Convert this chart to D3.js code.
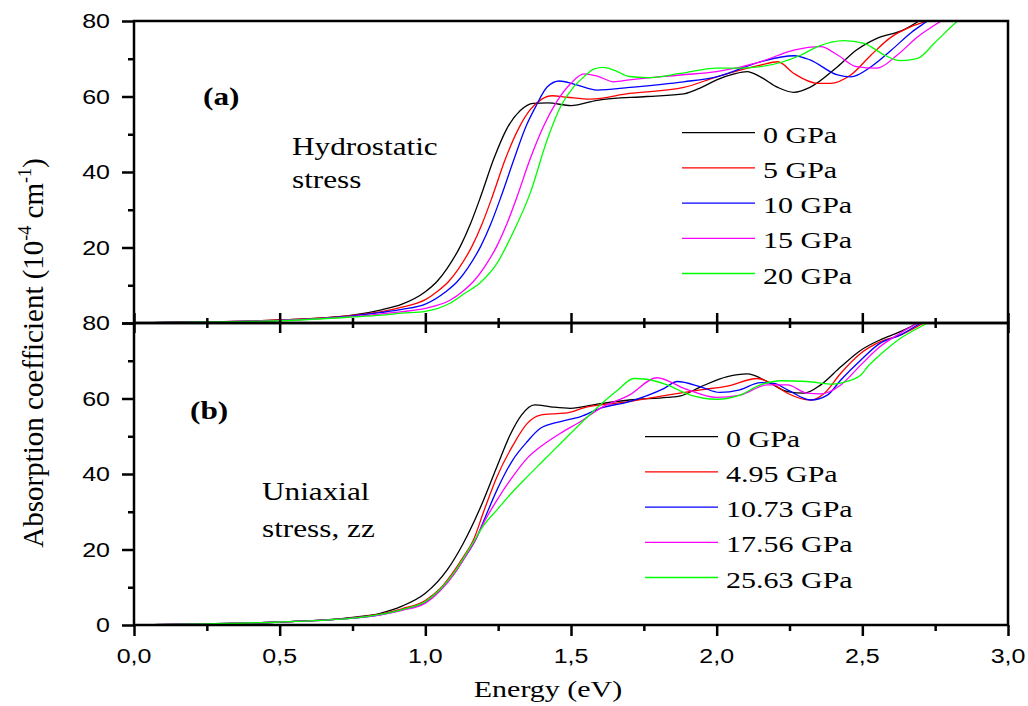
<!DOCTYPE html>
<meta charset="utf-8">
<style>
body { margin: 0; background: #fff; }
.curve { fill: none; stroke-width: 1.3; }
.tick line { stroke: #000; stroke-width: 2.5; }
.num { font-family: "Liberation Sans", Arial, sans-serif; font-size: 20px; fill: #000; }
.serif { font-family: "Liberation Serif", "Times New Roman", serif; fill: #000; }
</style>
<body>
<script src="https://cdn.jsdelivr.net/npm/d3@7"></script>
<script>
// energy (eV), absorption (10^-4 cm^-1)
var hydro0 = [[0,0],[0.25,0.3],[0.5,0.8],[0.75,2.1],[0.85,3.5],[0.92,5],[1.0,8.3],[1.04,11],[1.075,14.5],[1.12,20.3],[1.155,26.3],[1.19,33.5],[1.234,43.3],[1.28,51.5],[1.326,56.3],[1.37,58.2],[1.42,58.3],[1.5,57.6],[1.59,59],[1.76,60],[1.887,60.7],[1.95,62.5],[2.0,64.4],[2.06,66],[2.105,66.6],[2.15,65.2],[2.21,62.4],[2.265,61.1],[2.32,62.4],[2.415,67.9],[2.48,72.3],[2.55,75.4],[2.64,77.6],[2.69,79.8],[2.75,83]];
var hydro5 = [[0,0],[0.25,0.3],[0.5,0.8],[0.75,2],[0.85,3],[0.92,4.2],[1.0,6.2],[1.04,8.3],[1.08,11],[1.115,14.5],[1.16,20.3],[1.195,26.3],[1.23,33.5],[1.274,43.3],[1.32,51.5],[1.36,56.5],[1.4,59.3],[1.435,60.2],[1.487,59.8],[1.567,59.3],[1.7,60.8],[1.887,62.4],[2.0,65.2],[2.15,68.3],[2.21,69.2],[2.265,66.1],[2.346,63.5],[2.39,63.5],[2.46,65.7],[2.53,71],[2.6,75.8],[2.667,78.5],[2.72,80],[2.78,83]];
var hydro10 = [[0,0],[0.25,0.3],[0.5,0.7],[0.75,1.9],[0.85,2.8],[0.92,3.6],[1.0,5],[1.07,8.3],[1.11,11],[1.145,14.5],[1.19,20.3],[1.225,26.3],[1.26,33.5],[1.304,43.3],[1.345,52],[1.38,57.5],[1.418,62.5],[1.46,64.1],[1.51,63.3],[1.59,61.7],[1.7,62.4],[1.887,63.9],[2.0,65.2],[2.15,69.2],[2.265,70.8],[2.32,69.7],[2.415,65.7],[2.46,65.2],[2.53,67.9],[2.6,72.3],[2.667,76.9],[2.72,79.8],[2.78,83]];
var hydro15 = [[0,0],[0.25,0.3],[0.5,0.7],[0.75,1.7],[0.85,2.4],[0.92,3],[1.0,3.9],[1.086,6.1],[1.13,8.5],[1.165,11],[1.2,14.5],[1.245,20.3],[1.28,26.3],[1.315,33.5],[1.359,43.3],[1.405,52],[1.45,58.5],[1.5,63.5],[1.544,66],[1.59,65.4],[1.647,63.9],[1.7,64.4],[1.876,65.7],[2.0,66.6],[2.15,69.2],[2.265,72.3],[2.357,73.2],[2.415,71],[2.48,67.9],[2.55,67.5],[2.62,71],[2.69,75.8],[2.77,80],[2.83,83]];
var hydro20 = [[0,0],[0.25,0.3],[0.5,0.6],[0.75,1.6],[0.85,2.1],[0.92,2.6],[1.0,3.1],[1.086,5.3],[1.13,7.6],[1.19,10.8],[1.246,15.8],[1.3,23.8],[1.36,34.4],[1.418,48.5],[1.464,57.3],[1.51,62.6],[1.544,65.2],[1.58,67.3],[1.61,67.7],[1.647,67],[1.7,65.3],[1.76,65],[1.876,66.1],[2.0,67.5],[2.07,67.5],[2.15,67.9],[2.29,71],[2.346,73.2],[2.437,74.8],[2.506,74.1],[2.575,71],[2.63,69.5],[2.69,70.1],[2.747,74.1],[2.827,80],[2.88,83]];

var uni0 = [[0,0],[0.25,0.3],[0.5,0.8],[0.75,2],[0.845,3.1],[0.92,5],[1.0,8.4],[1.075,14.6],[1.13,21.6],[1.19,31.3],[1.246,42],[1.29,50.2],[1.33,55.6],[1.375,58.3],[1.43,57.8],[1.498,57.4],[1.59,58.5],[1.7,59.6],[1.83,60.3],[1.876,60.7],[1.945,63.1],[2.037,65.8],[2.105,66.5],[2.174,64.5],[2.243,61.8],[2.3,61.4],[2.357,63.6],[2.426,68.4],[2.495,72.8],[2.56,75.5],[2.63,77.7],[2.69,80],[2.75,83]];
var uni495 = [[0,0],[0.25,0.3],[0.5,0.8],[0.75,1.9],[0.845,2.9],[0.92,4.3],[1.0,6.5],[1.05,9.6],[1.1,14.5],[1.13,18],[1.165,22.5],[1.2,30],[1.246,39.3],[1.3,47.5],[1.35,53.4],[1.395,55.6],[1.45,56],[1.487,56.2],[1.556,57.8],[1.624,58.5],[1.7,59.2],[1.83,60.9],[1.945,62.3],[2.037,63.3],[2.14,65.3],[2.197,63.6],[2.243,61.4],[2.323,59.6],[2.37,61.4],[2.426,66.7],[2.495,72],[2.56,75],[2.63,76.8],[2.71,80],[2.77,83]];
var uni1073 = [[0,0],[0.25,0.3],[0.5,0.8],[0.75,1.8],[0.845,2.7],[0.92,4],[1.0,6],[1.05,9.2],[1.1,13.8],[1.13,17.3],[1.175,23],[1.2,27.5],[1.246,35.8],[1.3,43.7],[1.35,48.6],[1.395,52.1],[1.464,53.9],[1.533,55.2],[1.6,57.4],[1.7,59.2],[1.82,62.7],[1.865,64.5],[1.945,63.1],[2.01,61.6],[2.08,62.3],[2.15,64.2],[2.197,64],[2.243,62.3],[2.323,59.6],[2.38,60.9],[2.426,64.9],[2.495,70.2],[2.56,74.6],[2.63,76.8],[2.7,80],[2.76,83]];
var uni1756 = [[0,0],[0.25,0.3],[0.5,0.8],[0.75,1.8],[0.845,2.7],[0.92,3.9],[1.0,5.8],[1.05,9],[1.1,13.6],[1.13,17.2],[1.175,23],[1.2,27],[1.246,33.1],[1.3,39.3],[1.35,44.2],[1.395,47.2],[1.464,50.8],[1.533,53.9],[1.6,57.4],[1.7,60.9],[1.795,65.5],[1.888,62.7],[2.0,60.3],[2.08,60.9],[2.174,63.6],[2.243,63.6],[2.31,61.4],[2.357,61.2],[2.426,63.6],[2.495,68.9],[2.56,73.7],[2.63,77.3],[2.69,80],[2.75,83]];
var uni2563 = [[0,0],[0.25,0.3],[0.5,0.8],[0.75,1.8],[0.845,2.8],[0.92,4.1],[1.0,6.2],[1.05,9.4],[1.1,14],[1.13,17.6],[1.175,23.3],[1.2,26.4],[1.246,30.5],[1.3,35.3],[1.35,39.3],[1.395,42.8],[1.464,48.1],[1.533,53.4],[1.6,58.3],[1.66,62.2],[1.716,65.3],[1.76,65.1],[1.83,63.6],[1.91,60.9],[2.0,59.8],[2.08,60.9],[2.15,63.6],[2.22,64.7],[2.31,64.5],[2.4,63.8],[2.45,64.6],[2.495,66.2],[2.518,68.4],[2.56,71.5],[2.63,75.9],[2.7,79],[2.725,80],[2.78,83]];

var hydroLabels = ["0 GPa", "5 GPa", "10 GPa", "15 GPa", "20 GPa"];
var uniLabels = ["0 GPa", "4.95 GPa", "10.73 GPa", "17.56 GPa", "25.63 GPa"];
var seriesColors = ["#000000", "#ff0000", "#0000ff", "#ff00ff", "#00ff00"];
var xMajor = [0, 0.5, 1.0, 1.5, 2.0, 2.5, 3.0];
var xMinor = [0.25, 0.75, 1.25, 1.75, 2.25, 2.75];
var yMajor = [0, 20, 40, 60, 80];
var yMinor = [10, 30, 50, 70];

var W = 1028, H = 706;
var left = 134, right = 1008;
var topA = 21, mid = 323, botB = 625;
var sx = 1.25; // text in the picture is drawn wide

var svg = d3.select("body").append("svg")
    .attr("width", W)
    .attr("height", H);

var x = d3.scaleLinear().domain([0, 3]).range([left, right]);
var yA = d3.scaleLinear().domain([0, 80]).range([mid, topA]);
var yB = d3.scaleLinear().domain([0, 80]).range([botB, mid]);

function wideText(sel, tx, ty, str, cls, size, anchor, weight) {
  return sel.append("text")
    .attr("class", cls)
    .attr("transform", "translate(" + tx + "," + ty + ") scale(" + sx + ",1)")
    .attr("text-anchor", anchor || "start")
    .style("font-size", size + "px")
    .style("font-weight", weight || "normal")
    .text(str);
}

// panels
function panel(y, data, labels, clipId, legX, legY) {
  svg.append("clipPath").attr("id", clipId)
    .append("rect")
      .attr("x", left).attr("y", y.range()[1])
      .attr("width", right - left).attr("height", y.range()[0] - y.range()[1]);

  var line = d3.line()
      .x(function(d) { return x(d[0]); })
      .y(function(d) { return y(d[1]); })
      .curve(d3.curveMonotoneX);

  svg.append("g").attr("clip-path", "url(#" + clipId + ")")
    .selectAll("path")
    .data(data)
    .enter().append("path")
      .attr("class", "curve")
      .attr("stroke", function(d, i) { return seriesColors[i]; })
      .attr("d", line);

  // legend
  var leg = svg.append("g");
  labels.forEach(function(l, i) {
    var ly = legY + i * 35.2;
    leg.append("line")
      .attr("x1", legX).attr("x2", legX + 73)
      .attr("y1", ly).attr("y2", ly)
      .attr("stroke", seriesColors[i]).attr("stroke-width", 1.3);
    wideText(leg, legX + 81, ly + 10, l, "serif", 24);
  });

  // y axis
  svg.append("g")
    .attr("transform", "translate(" + left + ",0)")
    .call(d3.axisLeft(y).tickValues(yMajor).tickSize(12).tickFormat(""))
    .call(function(g) { g.select(".domain").remove(); });
  svg.append("g")
    .attr("transform", "translate(" + left + ",0)")
    .call(d3.axisLeft(y).tickValues(yMinor).tickSize(6).tickFormat(""))
    .call(function(g) { g.select(".domain").remove(); });

  // frame
  svg.append("rect")
    .attr("x", left).attr("y", y.range()[1])
    .attr("width", right - left).attr("height", y.range()[0] - y.range()[1])
    .attr("fill", "none").attr("stroke", "#000").attr("stroke-width", 2.5);
}

panel(yA, [hydro0, hydro5, hydro10, hydro15, hydro20], hydroLabels, "clipA", 682, 132.7);
panel(yB, [uni0, uni495, uni1073, uni1756, uni2563], uniLabels, "clipB", 645, 436.7);

// y tick labels
[20, 40, 60, 80].forEach(function(v) {
  wideText(svg, 110, yA(v) + 7, v, "num", 20, "end");
});
yMajor.forEach(function(v) {
  wideText(svg, 110, yB(v) + 7, v, "num", 20, "end");
});

// x ticks in the middle (both directions) and at the bottom
function xTicks(yPos, up, major, minor) {
  if (up) {
    svg.append("g").attr("transform", "translate(0," + yPos + ")")
      .call(d3.axisTop(x).tickValues(xMajor).tickSize(major).tickFormat(""))
      .call(function(g) { g.select(".domain").remove(); });
    svg.append("g").attr("transform", "translate(0," + yPos + ")")
      .call(d3.axisTop(x).tickValues(xMinor).tickSize(minor).tickFormat(""))
      .call(function(g) { g.select(".domain").remove(); });
  }
  svg.append("g").attr("transform", "translate(0," + yPos + ")")
    .call(d3.axisBottom(x).tickValues(xMajor).tickSize(major).tickFormat(""))
    .call(function(g) { g.select(".domain").remove(); });
  svg.append("g").attr("transform", "translate(0," + yPos + ")")
    .call(d3.axisBottom(x).tickValues(xMinor).tickSize(minor).tickFormat(""))
    .call(function(g) { g.select(".domain").remove(); });
}
xTicks(mid, true, 10, 5);
xTicks(botB, false, 11, 6);

xMajor.forEach(function(v) {
  wideText(svg, x(v), 663, v.toFixed(1).replace(".", ","), "num", 20, "middle");
});

// axis titles
wideText(svg, 548, 697, "Energy (eV)", "serif", 24, "middle");

var yt = svg.append("text")
    .attr("class", "serif")
    .attr("transform", "translate(43,353) rotate(-90)")
    .attr("text-anchor", "middle")
    .style("font-size", "29px");
yt.append("tspan").text("Absorption coefficient (10");
yt.append("tspan").attr("dy", -12).style("font-size", "18px").text("-4");
yt.append("tspan").attr("dy", 12).text(" cm");
yt.append("tspan").attr("dy", -12).style("font-size", "18px").text("-1");
yt.append("tspan").attr("dy", 12).text(")");

// panel annotations
wideText(svg, 203, 105, "(a)", "serif", 25, "start", "bold");
wideText(svg, 292, 155, "Hydrostatic", "serif", 25);
wideText(svg, 292, 188, "stress", "serif", 25);
wideText(svg, 190, 419, "(b)", "serif", 25, "start", "bold");
wideText(svg, 262, 500, "Uniaxial", "serif", 25);
wideText(svg, 262, 537, "stress, zz", "serif", 25);
</script>
</body>
